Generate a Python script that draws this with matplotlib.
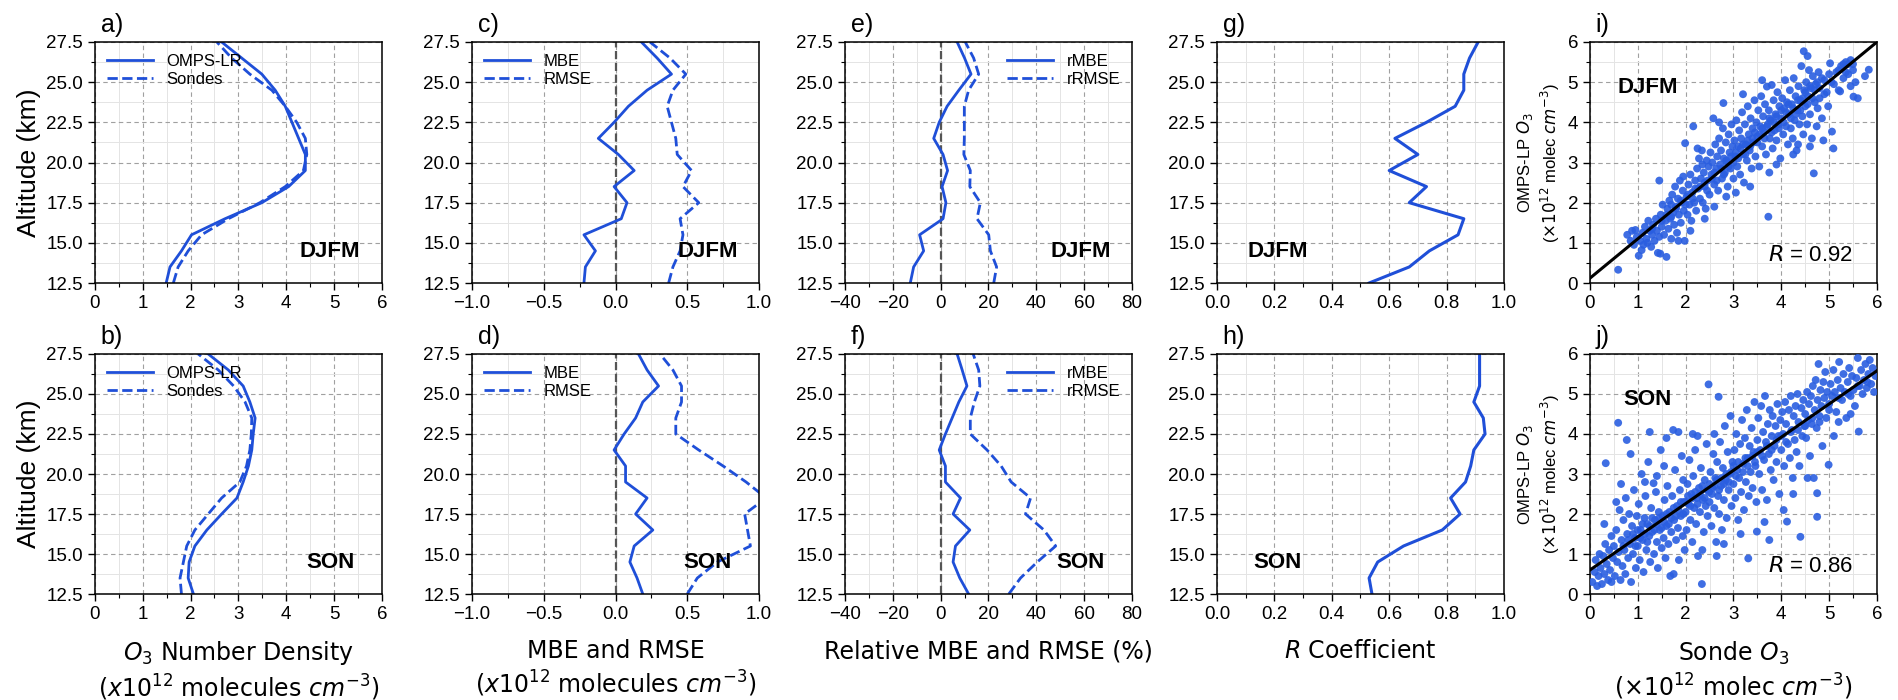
import matplotlib
matplotlib.use("Agg")
import matplotlib.pyplot as plt
from matplotlib.ticker import MultipleLocator, AutoMinorLocator, FormatStrFormatter

plt.rcParams['font.family'] = ['Liberation Sans', 'DejaVu Sans']
plt.rcParams['mathtext.fontset'] = 'dejavusans'

BLUE = '#1f4fd8'
DOTS = '#2a5ee0'

alt = [12.5, 13.5, 14.5, 15.5, 16.5, 17.5, 18.5, 19.5, 20.5, 21.5, 22.5, 23.5, 24.5, 25.5, 26.5, 27.5]

# a) / b) number density
dj_omps = [1.49, 1.57, 1.81, 2.02, 2.72, 3.49, 4.05, 4.40, 4.40, 4.26, 4.12, 3.98, 3.77, 3.49, 3.07, 2.65]
dj_sonde = [1.64, 1.74, 1.95, 2.23, 2.79, 3.45, 3.98, 4.36, 4.43, 4.40, 4.22, 3.98, 3.70, 3.24, 2.86, 2.55]
son_omps = [2.06, 1.95, 1.97, 2.09, 2.34, 2.65, 2.97, 3.10, 3.21, 3.28, 3.31, 3.35, 3.24, 3.10, 2.79, 2.37]
son_sonde = [1.81, 1.78, 1.85, 1.92, 2.09, 2.37, 2.65, 3.03, 3.17, 3.24, 3.27, 3.28, 3.14, 2.90, 2.58, 2.16]

# c) / d) MBE and RMSE
dj_mbe = [-0.22, -0.21, -0.14, -0.22, 0.04, 0.08, -0.01, 0.13, 0.02, -0.12, -0.01, 0.09, 0.22, 0.39, 0.29, 0.18]
dj_rmse = [0.37, 0.40, 0.45, 0.47, 0.45, 0.58, 0.47, 0.53, 0.43, 0.42, 0.39, 0.36, 0.40, 0.49, 0.38, 0.24]
son_mbe = [0.19, 0.15, 0.10, 0.13, 0.26, 0.14, 0.22, 0.07, 0.07, -0.01, 0.06, 0.14, 0.19, 0.30, 0.22, 0.16]
son_rmse = [0.50, 0.57, 0.71, 0.94, 0.92, 0.90, 1.05, 0.91, 0.75, 0.58, 0.42, 0.42, 0.46, 0.46, 0.40, 0.31]

# e) / f) relative MBE and RMSE (%)
dj_rmbe = [-12.7, -11.3, -7.1, -8.8, 1.0, 2.2, 0.6, 2.9, 1.0, -2.9, -0.6, 2.7, 7.6, 12.7, 10.0, 6.9]
dj_rrmse = [22.2, 23.4, 20.8, 20.1, 15.2, 16.6, 12.2, 12.4, 9.7, 9.9, 9.9, 9.9, 11.7, 15.9, 13.8, 10.3]
son_rmbe = [11.7, 8.0, 5.2, 6.2, 12.2, 5.2, 8.3, 2.0, 2.0, -0.6, 2.0, 4.8, 7.6, 11.0, 9.0, 6.9]
son_rrmse = [28.5, 33.4, 40.4, 48.1, 43.2, 35.5, 37.6, 29.5, 25.3, 19.4, 12.4, 12.4, 14.1, 16.4, 15.9, 13.6]

# g) / h) R coefficient
dj_r = [0.53, 0.67, 0.74, 0.84, 0.86, 0.67, 0.73, 0.60, 0.70, 0.62, 0.73, 0.83, 0.86, 0.86, 0.88, 0.91]
son_r = [0.54, 0.53, 0.56, 0.65, 0.785, 0.847, 0.814, 0.866, 0.884, 0.895, 0.934, 0.928, 0.895, 0.915, 0.915, 0.915]

# i) DJFM scatter (sonde, OMPS-LP)
dj_pts = [
    (0.59,0.33),(0.78,1.20),(0.85,1.05),(0.92,0.95),(0.95,1.32),(0.98,1.15),(0.88,1.30),
    (1.02,0.68),(1.05,1.05),(1.08,0.82),(1.10,1.25),(1.12,0.95),(1.15,1.40),(1.18,1.10),(1.20,1.00),
    (1.22,1.55),(1.25,1.30),(1.28,0.90),(1.30,1.20),(1.32,1.45),(1.35,1.05),(1.38,1.60),(1.40,1.30),
    (1.42,0.75),(1.45,1.15),(1.48,1.70),(1.47,0.73),(1.50,1.40),(1.45,2.55),
    (1.52,1.95),(1.55,1.20),(1.58,1.55),(1.60,0.65),(1.62,1.85),(1.64,1.35),(1.66,2.05),(1.68,1.60),
    (1.70,1.10),(1.72,2.20),(1.74,1.75),(1.76,1.45),(1.78,2.40),(1.80,1.90),(1.82,1.25),(1.84,2.10),
    (1.86,1.70),(1.88,2.55),(1.90,1.50),(1.92,2.00),(1.94,2.30),(1.96,1.80),(1.98,1.05),(1.99,3.48),
    (1.85,1.05),(1.70,1.95),(1.95,2.65),
    (2.02,2.15),(2.04,1.70),(2.06,2.45),(2.08,1.95),(2.10,2.70),(2.12,1.55),(2.14,2.25),(2.16,3.90),
    (2.18,2.00),(2.20,2.55),(2.22,1.80),(2.24,2.85),(2.26,2.35),(2.28,3.10),(2.30,2.10),(2.32,2.60),
    (2.34,3.30),(2.36,2.00),(2.38,2.75),(2.40,2.40),(2.42,1.85),(2.44,3.05),(2.46,2.55),(2.48,2.90),
    (2.10,1.30),(2.25,3.35),(2.40,1.60),(2.35,2.95),
    (2.50,2.20),(2.52,3.25),(2.54,2.70),(2.56,3.00),(2.58,4.10),(2.60,2.45),(2.62,3.45),(2.64,2.85),
    (2.66,3.15),(2.68,2.30),(2.70,3.60),(2.72,2.95),(2.74,3.30),(2.76,2.60),(2.78,3.85),(2.79,4.48),
    (2.80,3.10),(2.82,2.75),(2.84,3.50),(2.86,3.00),(2.88,2.40),(2.90,3.70),(2.92,3.25),(2.94,2.85),
    (2.96,3.95),(2.98,3.40),(2.60,1.90),(2.85,2.15),(2.70,4.00),
    (3.00,2.60),(3.02,3.55),(3.04,3.15),(3.06,4.05),(3.08,2.90),(3.10,3.40),(3.12,3.80),(3.14,2.70),
    (3.16,3.60),(3.18,4.25),(3.20,3.20),(3.22,2.50),(3.24,3.95),(3.26,3.45),(3.28,3.05),(3.30,4.40),
    (3.32,3.70),(3.34,3.30),(3.36,4.10),(3.38,2.85),(3.40,3.85),(3.42,3.50),(3.44,4.55),(3.46,3.15),
    (3.48,4.00),(3.05,2.25),(3.35,2.40),(3.20,4.70),
    (3.50,3.65),(3.52,4.30),(3.54,2.90),(3.56,3.90),(3.58,4.65),(3.60,3.40),(3.62,4.15),(3.64,3.75),
    (3.66,4.45),(3.68,3.20),(3.70,4.89),(3.72,3.95),(3.73,1.65),(3.74,4.30),(3.76,3.60),(3.78,4.05),
    (3.80,4.93),(3.82,3.35),(3.84,4.55),(3.86,3.80),(3.88,4.20),(3.90,3.55),(3.92,4.75),(3.94,3.95),
    (3.96,4.40),(3.98,3.10),(3.75,2.75),(3.60,5.05),(3.90,2.95),
    (4.00,4.10),(4.02,4.60),(4.04,3.70),(4.06,4.35),(4.08,5.05),(4.10,3.90),(4.12,4.50),(4.14,3.45),
    (4.16,4.20),(4.18,4.80),(4.20,3.85),(4.22,4.45),(4.24,3.60),(4.26,5.10),(4.28,4.05),(4.30,4.65),
    (4.32,3.30),(4.34,4.30),(4.36,4.90),(4.38,3.95),(4.40,4.55),(4.42,5.40),(4.44,4.15),(4.46,3.70),
    (4.47,5.77),(4.48,4.80),(4.25,3.20),(4.35,3.45),
    (4.50,4.40),(4.52,5.00),(4.54,3.95),(4.56,4.65),(4.58,5.30),(4.60,4.20),(4.62,4.85),(4.64,3.60),
    (4.66,5.15),(4.68,2.73),(4.70,4.50),(4.72,4.95),(4.74,3.90),(4.76,4.35),(4.78,5.25),(4.80,4.60),
    (4.85,4.10),(4.90,5.05),(4.95,4.75),(4.98,4.40),(4.55,5.65),(4.60,3.40),(4.88,3.55),
    (5.02,5.47),(5.06,3.77),(5.09,3.35),(5.10,4.95),(5.15,5.25),(5.20,4.80),(5.23,4.77),(5.25,5.40),
    (5.30,5.10),(5.35,5.50),(5.40,5.20),(5.45,4.90),(5.50,5.45),(5.51,4.64),(5.55,5.00),(5.60,4.60),
    (5.83,5.31),(5.75,5.15),(5.30,5.45),(5.45,5.55),
    # dense core along the 1:1 line
    (1.30,1.35),(1.50,1.55),(1.60,1.70),(1.70,1.65),(1.80,1.85),(1.90,2.05),(2.00,1.95),(2.05,2.20),
    (2.15,2.10),(2.20,2.35),(2.30,2.40),(2.40,2.50),(2.45,2.30),(2.55,2.60),(2.60,2.75),(2.65,2.55),
    (2.75,2.85),(2.80,2.70),(2.85,3.05),(2.90,2.90),(2.95,3.15),(3.00,3.00),(3.05,3.25),(3.10,3.10),
    (3.15,3.35),(3.20,3.45),(3.25,3.20),(3.30,3.55),(3.35,3.40),(3.40,3.60),(3.45,3.75),(3.50,3.50),
    (3.55,3.70),(3.60,3.85),(3.65,3.60),(3.70,3.90),(3.75,4.10),(3.80,3.75),(3.85,4.00),(3.90,4.15),
    (3.95,3.85),(4.00,4.30),(4.05,4.00),(4.10,4.25),(4.15,4.45),(4.20,4.10),(4.25,4.35),(4.30,4.20),
    (4.35,4.55),(4.40,4.30),(4.45,4.60),(4.50,4.75),(4.55,4.45),(4.60,4.90),(4.65,4.60),(4.70,4.80),
    (4.75,5.00),(4.80,4.85),(4.85,5.10),(4.90,4.70),(5.00,5.20),(5.05,5.00),(5.20,5.30),(5.35,5.25),
    (5.40,5.45),(5.50,5.30),
]

# j) SON scatter (sonde, OMPS-LP)
son_pts = [
    (0.05,0.30),(0.10,0.55),(0.12,0.85),(0.15,0.20),(0.18,0.45),(0.20,1.00),(0.22,0.65),(0.25,0.25),
    (0.28,0.95),(0.30,0.50),(0.33,3.27),(0.32,1.25),(0.35,0.75),(0.38,0.35),(0.40,1.10),(0.42,0.60),
    (0.45,1.45),(0.48,0.90),(0.30,1.75),(0.45,0.30),
    (0.50,1.20),(0.52,0.45),(0.55,1.60),(0.57,0.80),(0.59,4.28),(0.60,1.05),(0.62,2.10),(0.64,0.35),
    (0.66,1.35),(0.68,0.70),(0.70,1.85),(0.72,1.10),(0.74,0.50),(0.75,2.40),(0.77,3.85),(0.78,1.50),
    (0.80,0.90),(0.82,2.00),(0.84,1.25),(0.86,0.30),(0.88,1.70),(0.90,1.00),(0.92,2.60),(0.94,1.40),
    (0.96,0.65),(0.98,1.95),(0.65,2.75),(0.85,3.50),(0.55,2.30),
    (1.00,1.20),(1.02,2.25),(1.04,0.85),(1.06,1.60),(1.08,3.00),(1.10,1.35),(1.12,0.55),(1.14,1.90),
    (1.16,2.45),(1.18,1.10),(1.20,1.75),(1.22,3.30),(1.24,1.45),(1.26,0.80),(1.28,2.15),(1.30,1.55),
    (1.33,2.77),(1.34,1.00),(1.36,1.85),(1.38,2.55),(1.40,1.30),(1.42,0.65),(1.44,2.05),(1.46,1.60),
    (1.48,3.60),(1.50,1.15),(1.25,4.05),(1.15,2.80),(1.40,2.95),
    (1.52,1.95),(1.54,1.40),(1.56,2.35),(1.58,0.90),(1.60,1.70),(1.62,2.70),(1.64,1.25),(1.66,2.05),
    (1.68,0.45),(1.70,1.55),(1.72,2.45),(1.74,4.10),(1.76,1.85),(1.78,3.10),(1.80,1.35),(1.82,2.20),
    (1.84,1.65),(1.86,0.85),(1.88,2.60),(1.90,1.95),(1.92,3.45),(1.94,1.45),(1.96,2.30),(1.98,1.10),
    (1.60,3.90),(1.75,0.50),(1.95,2.85),(1.55,3.20),(1.85,4.05),
    (2.00,2.05),(2.02,1.60),(2.04,2.75),(2.06,2.25),(2.08,3.35),(2.10,1.85),(2.12,2.50),(2.14,1.30),
    (2.16,2.95),(2.18,2.15),(2.20,3.60),(2.22,1.75),(2.24,2.40),(2.26,0.95),(2.28,2.65),(2.30,2.05),
    (2.32,3.15),(2.34,0.25),(2.36,2.35),(2.38,1.55),(2.40,2.85),(2.42,2.20),(2.44,3.75),(2.46,1.95),
    (2.48,5.24),(2.49,2.55),(2.15,4.00),(2.35,1.10),(2.25,3.95),
    (2.50,2.30),(2.52,3.05),(2.54,1.70),(2.56,2.65),(2.58,3.50),(2.60,2.15),(2.62,2.90),(2.64,1.30),
    (2.66,3.30),(2.68,2.45),(2.69,4.93),(2.70,2.00),(2.72,3.80),(2.74,2.70),(2.76,1.60),(2.78,3.15),
    (2.80,2.35),(2.82,4.20),(2.84,2.85),(2.86,1.90),(2.88,3.55),(2.90,2.60),(2.92,3.00),(2.94,4.45),
    (2.96,2.20),(2.98,3.30),(2.60,4.00),(2.80,1.25),(2.65,0.95),
    (3.00,2.75),(3.02,3.60),(3.04,2.40),(3.06,4.00),(3.08,3.10),(3.10,1.85),(3.12,2.90),(3.14,3.75),
    (3.16,2.55),(3.18,4.35),(3.20,3.25),(3.22,2.10),(3.24,3.90),(3.26,2.80),(3.28,4.60),(3.30,3.40),
    (3.31,0.89),(3.32,2.45),(3.34,3.70),(3.36,3.05),(3.38,4.15),(3.40,2.65),(3.42,3.55),(3.44,4.80),
    (3.46,3.20),(3.48,2.30),(3.49,1.56),(3.15,1.50),
    (3.50,3.85),(3.52,4.40),(3.54,3.00),(3.56,3.60),(3.58,4.70),(3.60,2.60),(3.62,4.05),(3.64,3.35),
    (3.66,4.95),(3.68,3.80),(3.70,2.35),(3.72,4.25),(3.74,3.50),(3.76,4.60),(3.78,3.10),(3.80,3.95),
    (3.82,4.45),(3.84,2.85),(3.86,3.70),(3.88,4.20),(3.90,3.30),(3.92,4.75),(3.94,3.95),(3.96,2.50),
    (3.98,4.35),(3.65,1.80),(3.75,1.35),
    (4.00,3.60),(4.02,4.55),(4.04,4.00),(4.06,3.20),(4.08,4.80),(4.10,4.25),(4.12,1.81),(4.14,3.75),
    (4.16,4.60),(4.18,3.40),(4.20,4.95),(4.22,4.10),(4.24,2.90),(4.26,4.45),(4.28,3.85),(4.30,4.70),
    (4.32,3.55),(4.34,5.00),(4.36,4.30),(4.38,3.20),(4.40,1.43),(4.42,4.65),(4.44,3.95),(4.46,4.85),
    (4.48,4.20),(4.05,2.10),(4.25,2.50),
    (4.50,4.50),(4.52,3.90),(4.54,5.05),(4.56,4.35),(4.58,4.75),(4.60,3.45),(4.62,4.95),(4.64,4.25),
    (4.66,5.20),(4.68,2.90),(4.70,4.60),(4.72,5.35),(4.74,4.15),(4.75,1.93),(4.75,2.52),(4.76,4.85),
    (4.78,5.75),(4.80,4.45),(4.82,5.10),(4.84,4.70),(4.86,3.70),(4.88,5.30),(4.90,4.90),(4.92,5.55),
    (4.94,4.40),(4.96,5.05),(4.99,3.23),(4.55,2.90),
    (5.00,4.75),(5.03,5.25),(5.06,4.95),(5.09,5.60),(5.12,5.05),(5.15,4.55),(5.18,5.35),(5.21,5.80),
    (5.24,5.15),(5.27,4.85),(5.30,5.50),(5.33,5.05),(5.36,4.40),(5.39,5.30),(5.42,5.65),(5.45,4.95),
    (5.48,5.45),(5.51,5.10),(5.54,4.70),(5.57,5.40),(5.60,5.90),(5.62,4.06),(5.64,5.20),(5.67,5.60),
    (5.70,5.00),(5.73,5.35),(5.76,5.75),(5.79,5.15),(5.82,5.50),(5.85,5.85),(5.88,5.25),(5.91,5.65),
    (5.94,5.05),(5.97,5.45),(5.20,4.30),(5.45,4.50),(5.10,3.95),
    # dense core along the fit line
    (0.70,1.20),(0.80,1.35),(0.90,1.50),(0.95,1.20),(1.00,1.60),(1.05,1.40),(1.10,1.75),(1.15,1.50),
    (1.20,1.30),(1.25,1.70),(1.30,1.90),(1.35,1.60),(1.40,1.75),(1.45,1.90),(1.50,1.65),(1.55,1.80),
    (1.60,2.00),(1.65,1.75),(1.70,1.90),(1.75,2.15),(1.80,1.95),(1.85,2.10),(1.90,2.30),(1.95,2.00),
    (2.00,2.30),(2.05,2.45),(2.10,2.20),(2.15,2.40),(2.20,2.55),(2.25,2.25),(2.30,2.50),(2.35,2.70),
    (2.40,2.40),(2.45,2.60),(2.50,2.75),(2.55,2.50),(2.60,2.70),(2.65,2.85),(2.70,2.60),(2.75,2.90),
    (2.80,2.75),(2.85,3.00),(2.90,2.80),(2.95,3.05),(3.00,3.20),(3.05,2.95),(3.10,3.30),(3.20,3.05),
    (3.25,3.40),(3.30,3.20),(3.40,3.45),(3.45,3.30),(3.50,3.55),(3.60,3.45),(3.70,3.70),(3.80,3.60),
    (3.90,3.85),(4.00,3.95),(4.10,3.80),(4.20,4.05),(4.35,4.10),(4.50,4.20),(4.65,4.40),(4.80,4.30),
    (5.00,4.60),(5.20,4.90),(5.40,5.00),(5.60,5.20),(5.80,5.30),
]

# regression lines (slope, intercept) and correlation
dj_fit = (0.98, 0.12)
son_fit = (0.83, 0.60)
dj_R = 0.92
son_R = 0.86

fig = plt.figure(figsize=(18.98, 7.0), dpi=100)

W = 0.1512
lefts = [0.050, 0.2487, 0.4452, 0.6412, 0.8377]
row_y = [(0.5957, 0.3443), (0.1514, 0.3429)]

axes = [[fig.add_axes([lefts[c], row_y[r][0], W, row_y[r][1]]) for c in range(5)] for r in range(2)]

tick_fs = 13.5
lab_fs = 17


def style(ax, xlim, xmaj, ylim, ymaj, yfmt):
    ax.set_xlim(*xlim)
    ax.set_ylim(*ylim)
    ax.xaxis.set_major_locator(MultipleLocator(xmaj))
    ax.yaxis.set_major_locator(MultipleLocator(ymaj))
    ax.xaxis.set_minor_locator(AutoMinorLocator(2))
    ax.yaxis.set_minor_locator(AutoMinorLocator(2))
    ax.yaxis.set_major_formatter(FormatStrFormatter(yfmt))
    ax.grid(which='major', ls=(0, (4, 3)), color='#a0a0a0', lw=0.8)
    ax.grid(which='minor', ls='-', color='#e4e4e4', lw=0.7)
    ax.set_axisbelow(True)
    ax.tick_params(which='major', labelsize=tick_fs, length=5, width=1)
    ax.tick_params(which='minor', length=3, width=0.8)
    for s in ax.spines.values():
        s.set_linewidth(1.1)


def season_text(ax, x, y, s):
    ax.text(x, y, s, transform=ax.transAxes, ha='center', va='center',
            fontsize=16, fontweight='bold', zorder=5)


letters = [['a)', 'c)', 'e)', 'g)', 'i)'], ['b)', 'd)', 'f)', 'h)', 'j)']]
seasons = ['DJFM', 'SON']

prof = [(dj_omps, dj_sonde), (son_omps, son_sonde)]
errs = [(dj_mbe, dj_rmse), (son_mbe, son_rmse)]
rerrs = [(dj_rmbe, dj_rrmse), (son_rmbe, son_rrmse)]
rcoef = [dj_r, son_r]
pts = [dj_pts, son_pts]
fits = [dj_fit, son_fit]
rvals = [dj_R, son_R]

for r in range(2):
    ax = axes[r][0]
    style(ax, (0, 6), 1, (12.5, 27.5), 2.5, '%.1f')
    ax.plot(prof[r][0], alt, color=BLUE, lw=2, label='OMPS-LR')
    ax.plot(prof[r][1], alt, color=BLUE, lw=2, ls='--', label='Sondes')
    ax.legend(loc='upper left', frameon=False, fontsize=12, handlelength=2.8,
              borderaxespad=0.3, labelspacing=0.2)
    ax.set_ylabel('Altitude (km)', fontsize=19)
    ax.set_xticks([0, 1, 2, 3, 4, 5, 6])
    season_text(ax, 0.82, 0.13, seasons[r])

    ax = axes[r][1]
    style(ax, (-1, 1), 0.5, (12.5, 27.5), 2.5, '%.1f')
    ax.axvline(0, color='#555555', ls='--', lw=1.6, zorder=1)
    ax.plot(errs[r][0], alt, color=BLUE, lw=2, label='MBE')
    ax.plot(errs[r][1], alt, color=BLUE, lw=2, ls='--', label='RMSE')
    ax.legend(loc='upper left', frameon=False, fontsize=12, handlelength=2.8,
              borderaxespad=0.3, labelspacing=0.2)
    season_text(ax, 0.82, 0.13, seasons[r])

    ax = axes[r][2]
    style(ax, (-40, 80), 20, (12.5, 27.5), 2.5, '%.1f')
    ax.axvline(0, color='#555555', ls='--', lw=1.6, zorder=1)
    ax.plot(rerrs[r][0], alt, color=BLUE, lw=2, label='rMBE')
    ax.plot(rerrs[r][1], alt, color=BLUE, lw=2, ls='--', label='rRMSE')
    ax.legend(loc='upper right', frameon=False, fontsize=12, handlelength=2.8,
              borderaxespad=0.3, labelspacing=0.2)
    season_text(ax, 0.82, 0.13, seasons[r])

    ax = axes[r][3]
    style(ax, (0, 1), 0.2, (12.5, 27.5), 2.5, '%.1f')
    ax.plot(rcoef[r], alt, color=BLUE, lw=2.2)
    season_text(ax, 0.21, 0.13, seasons[r])

    ax = axes[r][4]
    style(ax, (0, 6), 1, (0, 6), 1, '%d')
    xs = [p[0] for p in pts[r]]
    ys = [p[1] for p in pts[r]]
    ax.scatter(xs, ys, s=32, color=DOTS, alpha=0.9, edgecolors='none', zorder=3)
    m, b = fits[r]
    ax.plot([0, 6], [b, b + 6 * m], color='black', lw=2.2, zorder=4)
    ax.set_ylabel('OMPS-LP $O_3$\n($\\times10^{12}$ molec $cm^{-3}$)', fontsize=12, labelpad=4)
    season_text(ax, 0.20, 0.81, seasons[r])
    ax.text(0.77, 0.115, '$R$ = %.2f' % rvals[r], transform=ax.transAxes,
            ha='center', va='center', fontsize=16, zorder=5)

    for c in range(5):
        axes[r][c].text(0.02, 1.02, letters[r][c], transform=axes[r][c].transAxes,
                        ha='left', va='bottom', fontsize=18)

xl = dict(fontsize=lab_fs, family='DejaVu Sans', linespacing=1.2, labelpad=12)
axes[1][0].set_xlabel('$O_3$ Number Density\n($x10^{12}$ molecules $cm^{-3}$)', **xl)
axes[1][1].set_xlabel('MBE and RMSE\n($x10^{12}$ molecules $cm^{-3}$)', **xl)
axes[1][2].set_xlabel('Relative MBE and RMSE (%)', **xl)
axes[1][3].set_xlabel('$R$ Coefficient', **xl)
axes[1][4].set_xlabel('Sonde $O_3$\n($\\times10^{12}$ molec $cm^{-3}$)', **xl)

fig.savefig('out.png', dpi=100)
